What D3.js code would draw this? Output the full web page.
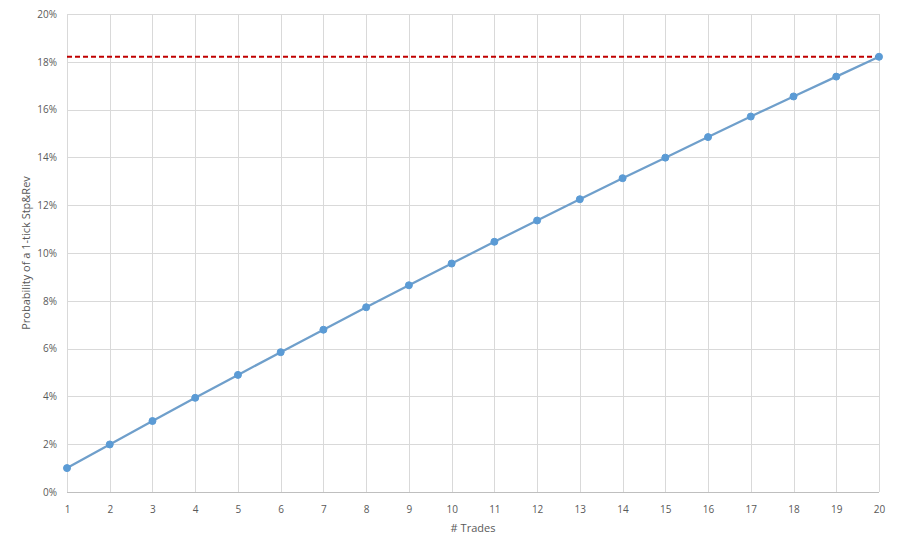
<!DOCTYPE html>
<html><head><meta charset="utf-8">
<script src="https://cdn.jsdelivr.net/npm/d3@7"></script>
<style>body{margin:0;background:#fff}svg{display:block}text{font-family:"Open Sans","Liberation Sans",sans-serif}</style>
</head><body>
<svg id="c" width="900" height="552"></svg>
<script>
const trades = [1,2,3,4,5,6,7,8,9,10,11,12,13,14,15,16,17,18,19,20];
const probability = [0.0100,0.0199,0.0297,0.0394,0.0490,0.0585,0.0679,0.0773,0.0865,0.0956,0.1047,0.1136,0.1225,0.1313,0.1399,0.1485,0.1571,0.1655,0.1738,0.1821];
const threshold = [0.1821];
const yTicks = [0,0.02,0.04,0.06,0.08,0.10,0.12,0.14,0.16,0.18,0.20];

const svg = d3.select("#c");
const L=67,R=879,T=14,B=492;
const x = d3.scaleLinear().domain([1,20]).range([L,R]);
const y = d3.scaleLinear().domain([0,0.2]).range([B,T]);

// horizontal gridlines
svg.append("g").selectAll("line").data(yTicks).join("line")
 .attr("x1",L).attr("x2",R).attr("y1",d=>Math.round(y(d))+0.5).attr("y2",d=>Math.round(y(d))+0.5)
 .attr("stroke",d=>d===0?"#bfbfbf":"#d9d9d9").attr("stroke-width",1);
// vertical gridlines
svg.append("g").selectAll("line").data(trades).join("line")
 .attr("y1",T).attr("y2",B).attr("x1",d=>Math.round(x(d))+0.5).attr("x2",d=>Math.round(x(d))+0.5)
 .attr("stroke","#d9d9d9").attr("stroke-width",1);

// y axis labels
const yAxis = d3.axisLeft(y).tickValues(yTicks).tickFormat(d3.format(".0%")).tickSize(0).tickPadding(10);
const gy = svg.append("g").attr("transform",`translate(${L},0)`).call(yAxis);
gy.select(".domain").remove();
gy.selectAll("text").attr("fill","#595959").style("font-size","10px");

const xAxis = d3.axisBottom(x).tickValues(trades).tickFormat(d3.format("d")).tickSize(0).tickPadding(14);
const gx = svg.append("g").attr("transform",`translate(0,${B})`).call(xAxis);
gx.select(".domain").remove();
gx.selectAll("text").attr("fill","#595959").style("font-size","10px");

// axis titles
svg.append("text").attr("x",(L+R)/2).attr("y",532).attr("text-anchor","middle")
 .attr("fill","#595959").style("font-size","11px").text("# Trades");
svg.append("text").attr("transform",`translate(30,${(T+B)/2}) rotate(-90)`).attr("text-anchor","middle")
 .attr("fill","#595959").style("font-size","11px").text("Probability of a 1-tick Stp&Rev");

// threshold
svg.append("g").selectAll("line").data(threshold).join("line")
 .attr("x1",L).attr("x2",R).attr("y1",d=>y(d)).attr("y2",d=>y(d))
 .attr("stroke","#c00000").attr("stroke-width",2).attr("stroke-dasharray","5,3");

// series
const line = d3.line().x((d,i)=>x(trades[i])).y(d=>y(d));
svg.append("path").datum(probability).attr("d",line).attr("fill","none")
 .attr("stroke","#6f9fcb").attr("stroke-width",2.25);
svg.append("g").selectAll("circle").data(probability).join("circle")
 .attr("cx",(d,i)=>x(trades[i])).attr("cy",d=>y(d)).attr("r",3.5)
 .attr("fill","#5b9bd5").attr("stroke","#5b9bd5");
</script>
</body></html>
